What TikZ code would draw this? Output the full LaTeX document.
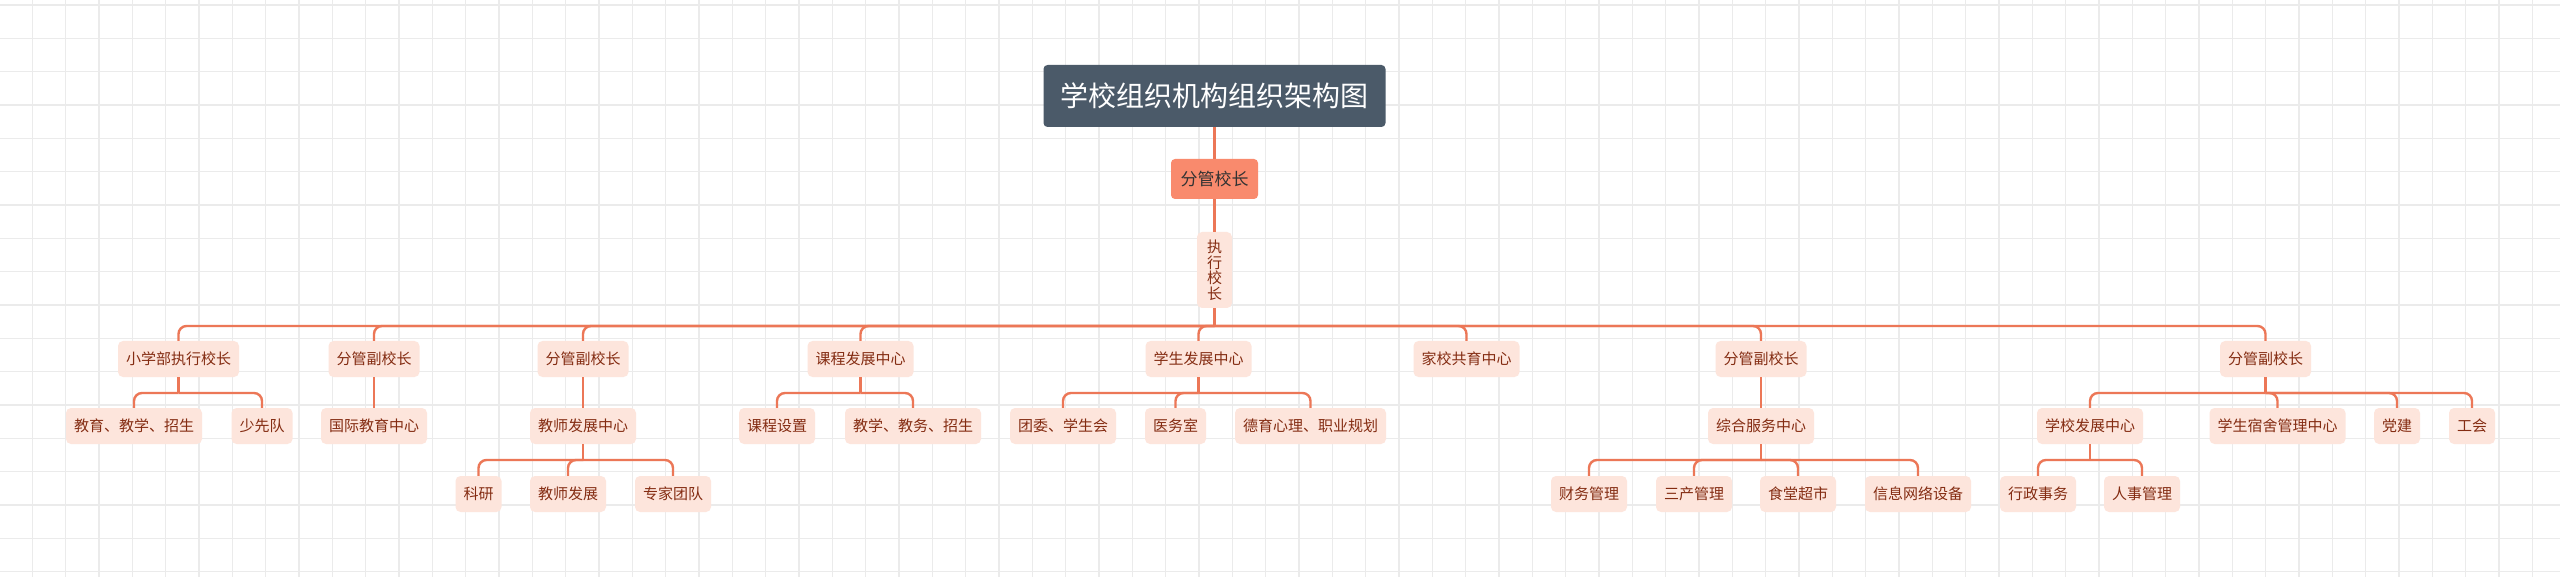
\documentclass[tikz,border=0pt]{standalone}
\usepackage{fontspec}
\setmainfont{Noto Sans CJK SC}

\definecolor{slate}{HTML}{4B5A69}
\definecolor{coral}{HTML}{F98A6D}
\definecolor{peach}{HTML}{FDE5DC}
\definecolor{brick}{HTML}{842C12}
\definecolor{wirecol}{HTML}{EC7757}
\definecolor{gridgray}{HTML}{EBEBEB}

\tikzset{
every picture/.style={x=1pt,y=-1pt},
gridline/.style={gridgray, line width=1.3pt},
wire/.style={wirecol, line width=2.4pt, rounded corners=8pt},
rootbox/.style={fill=slate, text=white, rounded corners=4pt, font=\fontsize{28}{30}\selectfont, minimum height=62pt, inner xsep=17pt},
headbox/.style={fill=coral, text=black!80, rounded corners=4pt, font=\fontsize{17}{19}\selectfont, minimum height=40pt, inner xsep=9.5pt},
unit/.style={fill=peach, text=brick, rounded corners=5pt, font=\fontsize{15}{17}\selectfont, minimum height=36pt, inner xsep=8pt}
}

\begin{document}
\begin{tikzpicture}
      \fill[white] (0,0) rectangle (2560,577);
      \useasboundingbox (0,0) rectangle (2560,577);
      \foreach \i in {0,...,77} \draw[gridline] ({-1+33.333*\i},0) -- ({-1+33.333*\i},577);
      \foreach \j in {0,...,17} \draw[gridline] (0,{5+33.333*\j}) -- (2560,{5+33.333*\j});

      % top of the tree
      \node[rootbox] (root) at (1214.5,96) {学校组织机构组织架构图};
      \node[headbox] (head) at (1214.5,179) {分管校长};
      \node[unit, minimum height=76pt, inner xsep=10pt, align=center, font=\fontsize{15}{15.5}\selectfont] (exec) at (1214.5,270) {执\\行\\校\\长};
      \coordinate (hub) at (1214.5,326);

      % first row
      \node[unit] (xxb) at (178.5,359) {小学部执行校长};
      \node[unit] (fg1) at (374,359) {分管副校长};
      \node[unit] (fg2) at (583,359) {分管副校长};
      \node[unit] (kc) at (860.5,359) {课程发展中心};
      \node[unit] (xs) at (1198.5,359) {学生发展中心};
      \node[unit] (jx) at (1466.5,359) {家校共育中心};
      \node[unit] (fg3) at (1761,359) {分管副校长};
      \node[unit] (fg4) at (2265.5,359) {分管副校长};

      % second row
      \node[unit] (jyzs) at (134,426) {教育、教学、招生};
      \node[unit] (sxd) at (262,426) {少先队};
      \node[unit] (gj) at (374,426) {国际教育中心};
      \node[unit] (js) at (583,426) {教师发展中心};
      \node[unit] (kcsz) at (777,426) {课程设置};
      \node[unit] (jxjw) at (913,426) {教学、教务、招生};
      \node[unit] (tw) at (1063,426) {团委、学生会};
      \node[unit] (yws) at (1175.5,426) {医务室};
      \node[unit] (dy) at (1310.5,426) {德育心理、职业规划};
      \node[unit] (zh) at (1761,426) {综合服务中心};
      \node[unit] (xf) at (2090,426) {学校发展中心};
      \node[unit] (ss) at (2277.5,426) {学生宿舍管理中心};
      \node[unit] (dj) at (2397,426) {党建};
      \node[unit] (gh) at (2472,426) {工会};

      % third row
      \node[unit] (ky) at (478.5,494) {科研};
      \node[unit] (jsfz) at (568,494) {教师发展};
      \node[unit] (zj) at (673,494) {专家团队};
      \node[unit] (cw) at (1589,494) {财务管理};
      \node[unit] (sc) at (1694,494) {三产管理};
      \node[unit] (st) at (1798,494) {食堂超市};
      \node[unit] (xx) at (1918,494) {信息网络设备};
      \node[unit] (xz) at (2038,494) {行政事务};
      \node[unit] (rs) at (2142,494) {人事管理};

      \coordinate (hxxb) at (178.5,393);
      \coordinate (hkc) at (860.5,393);
      \coordinate (hxs) at (1198.5,393);
      \coordinate (hfg4) at (2265.5,393);
      \coordinate (hjs) at (583,460);
      \coordinate (hzh) at (1761,460);
      \coordinate (hxf) at (2090,460);

      \draw[wire] (root.south) -- (head.north);
      \draw[wire] (head.south) -- (exec.north);
      \draw[wire] (exec.south) -- (hub);
      \foreach \c in {xxb,fg1,fg2,kc,xs,jx,fg3,fg4} \draw[wire] (\c.north) |- (hub);

      \foreach \p/\c in {xxb/jyzs,xxb/sxd,kc/kcsz,kc/jxjw,xs/tw,xs/yws,xs/dy,fg4/xf,fg4/ss,fg4/dj,fg4/gh,js/ky,js/jsfz,js/zj,zh/cw,zh/sc,zh/st,zh/xx,xf/xz,xf/rs}
        \draw[wire] (\c.north) |- (h\p);
      \foreach \p in {xxb,kc,xs,fg4,js,zh,xf} \draw[wire] (\p.south) -- (h\p);
      \draw[wire] (fg1.south) -- (gj.north);
      \draw[wire] (fg2.south) -- (js.north);
      \draw[wire] (fg3.south) -- (zh.north);
    \end{tikzpicture}
\end{document}
